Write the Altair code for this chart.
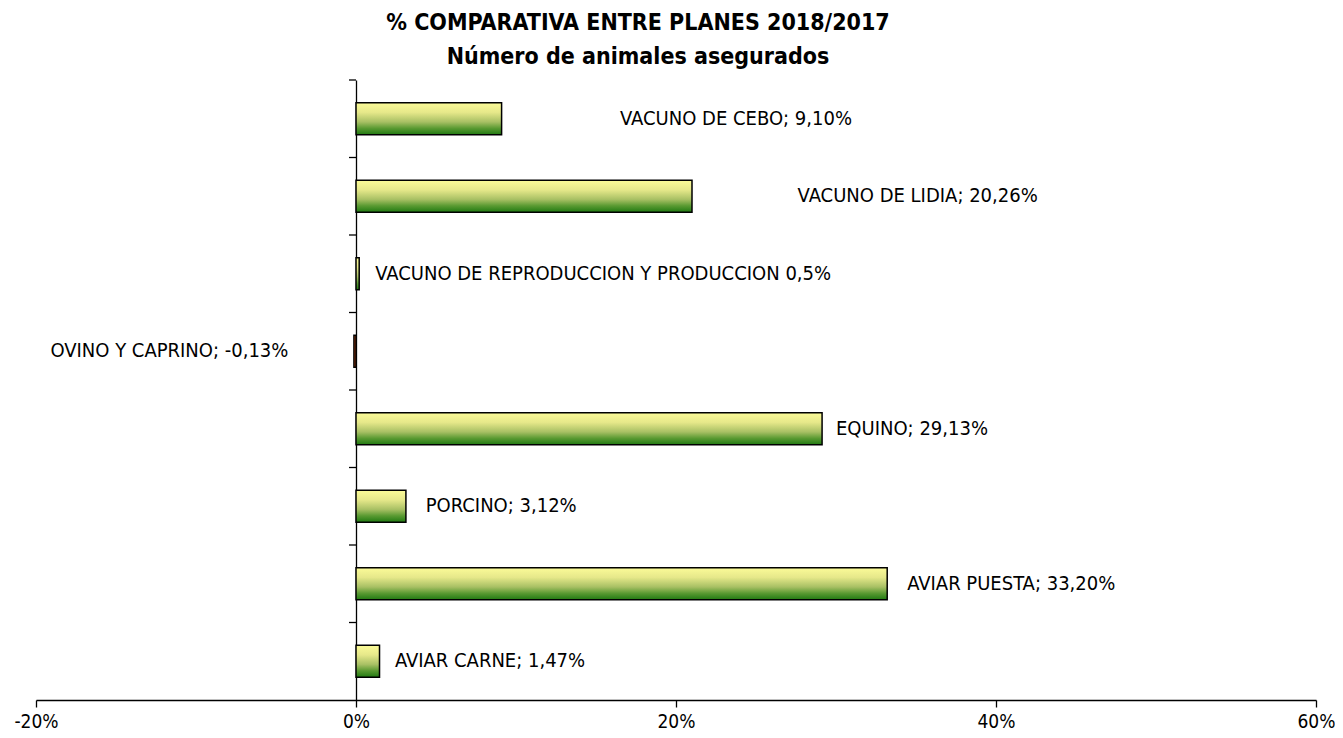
import altair as alt
import pandas as pd

categories = [
    "VACUNO DE CEBO",
    "VACUNO DE LIDIA",
    "VACUNO DE REPRODUCCION Y PRODUCCION",
    "OVINO Y CAPRINO",
    "EQUINO",
    "PORCINO",
    "AVIAR PUESTA",
    "AVIAR CARNE",
]
values = [9.10, 21.0, 0.2, -0.13, 29.13, 3.12, 33.20, 1.47]
labels = [
    "VACUNO  DE CEBO; 9,10%",
    "VACUNO  DE LIDIA; 20,26%",
    "VACUNO  DE REPRODUCCION Y PRODUCCION 0,5%",
    "OVINO Y CAPRINO; -0,13%",
    "EQUINO; 29,13%",
    "PORCINO; 3,12%",
    "AVIAR  PUESTA; 33,20%",
    "AVIAR  CARNE; 1,47%",
]
label_pos = [16.5, 27.6, 1.2, -19.1, 30.0, 4.36, 34.45, 2.43]
x_ticks = [-20, 0, 20, 40, 60]

df = pd.DataFrame({"cat": categories, "value": values, "label": labels, "lx": label_pos})

FONT = "Liberation Sans Narrow, DejaVu Sans Condensed, sans-serif"
W, H = 1280, 620
STEP = H / len(categories)

grad = alt.LinearGradient(
    gradient="linear",
    stops=[
        alt.GradientStop(color="#fbfb98", offset=0),
        alt.GradientStop(color="#e6e88a", offset=0.3),
        alt.GradientStop(color="#a8c064", offset=0.6),
        alt.GradientStop(color="#5a9a32", offset=0.8),
        alt.GradientStop(color="#217a12", offset=1),
    ],
    x1=0, x2=0, y1=0, y2=1,
)

yscale = alt.Scale(paddingInner=0.59, paddingOuter=0.295)
xscale = alt.Scale(domain=[-20, 60], nice=False, zero=False)

bars = alt.Chart(df).mark_bar(stroke="black", strokeWidth=1.5).encode(
    x=alt.X(
        "value:Q",
        scale=xscale,
        axis=alt.Axis(
            values=x_ticks, labelExpr="datum.value + '%'", grid=False, title=None,
            tickSize=7, labelPadding=5, labelFont=FONT, labelFontSize=19,
            labelColor="black", domainColor="black", tickColor="black",
            labelFlush=False, domainWidth=1.3, tickWidth=1.3,
        ),
    ),
    x2=alt.datum(0),
    y=alt.Y(
        "cat:N",
        sort=categories,
        scale=yscale,
        axis=alt.Axis(
            labels=False, title=None, offset=-W / 4, ticks=False,
            domainColor="black", domainWidth=1.3,
        ),
    ),
    color=alt.condition("datum.value < 0", alt.value("#c84a10"), alt.value(grad)),
)

yticks = alt.Chart(df).mark_tick(
    orient="horizontal", size=7, thickness=1.3, color="black",
    xOffset=-3.5, yOffset=-STEP / 2, opacity=1,
).encode(
    x=alt.X("zero:Q", scale=xscale),
    y=alt.Y("cat:N", sort=categories, scale=yscale),
).transform_calculate(zero="0")

text = alt.Chart(df).mark_text(
    align="left", baseline="middle", font=FONT, fontSize=20, color="black"
).encode(
    x=alt.X("lx:Q", scale=xscale),
    y=alt.Y("cat:N", sort=categories, scale=yscale),
    text="label:N",
)

chart = (
    alt.layer(bars, yticks, text)
    .properties(
        width=W,
        height=H,
        autosize=alt.AutoSizeParams(type="none"),
        padding={"left": 28, "top": 72, "right": 19, "bottom": 30},
        title=alt.TitleParams(
            text=["% COMPARATIVA ENTRE PLANES 2018/2017", "Número de animales asegurados"],
            font=FONT, fontSize=23, fontWeight="bold", color="black",
            anchor="middle", dx=-38, lineHeight=34, offset=10,
        ),
    )
    .configure_view(stroke=None)
)

chart.save("out.html", embed_options={"renderer": "svg", "actions": False})
